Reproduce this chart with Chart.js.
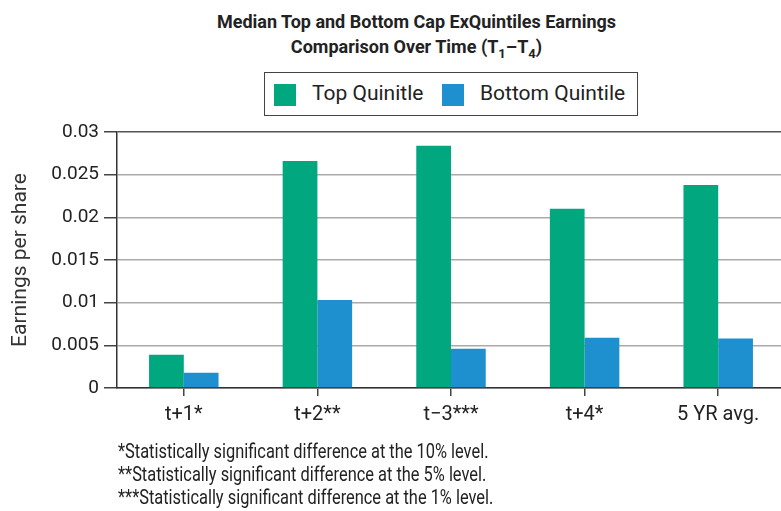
<!DOCTYPE html>
<html>
<head>
<meta charset="utf-8">
<script src="https://cdn.jsdelivr.net/npm/chart.js@4.4.0/dist/chart.umd.min.js"></script>
<style>
    html, body { margin: 0; padding: 0; width: 781px; height: 511px; overflow: hidden; background: #fff; font-family: Roboto, sans-serif; color: #222; }
    .title { position: absolute; top: 9px; left: 190px; width: 453px; text-align: center; font-weight: bold; font-size: 18px; line-height: 25px; }
    .legend { position: absolute; left: 264px; top: 72px; width: 374px; height: 44px; border: 1.5px solid #444; box-sizing: border-box; }
    .legend span { position: absolute; top: 8px; font-size: 21px; line-height: 24px; }
    .legend i { position: absolute; top: 11px; width: 22px; height: 22px; }
    .notes { position: absolute; left: 118px; top: 440px; font-size: 20px; line-height: 23px; white-space: nowrap; transform: scaleX(0.82); transform-origin: left top; }
    .wrap { position: absolute; left: 0; top: 0; width: 785px; height: 511px; }
</style>
</head>
<body>
<div class="title">Median Top and Bottom Cap ExQuintiles Earnings<br>Comparison Over Time (T<sub style="font-size:13px">1</sub>–T<sub style="font-size:13px">4</sub>)</div>
<div class="legend" id="legend"></div>
<div class="wrap"><canvas id="chart" width="785" height="511"></canvas></div>
<div class="notes">
    *Statistically significant difference at the 10% level.<br>
    **Statistically significant difference at the 5% level.<br>
    ***Statistically significant difference at the 1% level.
</div>
<script>
// data
const categories = ['t+1*', 't+2**', 't\u22123***', 't+4*', '5 YR avg.'];
const topQuintile = [0.0039, 0.0266, 0.0284, 0.0210, 0.0238];
const bottomQuintile = [0.0018, 0.0103, 0.0046, 0.0059, 0.0058];
const yTicks = [0, 0.005, 0.01, 0.015, 0.02, 0.025, 0.03];

const GREEN = '#00A77F';
const BLUE = '#1E90D0';

// html legend
const legend = document.getElementById('legend');
legend.innerHTML = `
    <i style="left:9px; background:${GREEN}"></i><span style="left:47px">Top Quinitle</span>
    <i style="left:177px; background:${BLUE}"></i><span style="left:215px">Bottom Quintile</span>
`;

const PAD_LEFT = 8;
const ctx = document.getElementById('chart').getContext('2d');
new Chart(ctx, {
    type: 'bar',
    data: {
        labels: categories,
        datasets: [
            { label: 'Top Quinitle', data: topQuintile, backgroundColor: GREEN, borderWidth: 0 },
            { label: 'Bottom Quintile', data: bottomQuintile, backgroundColor: BLUE, borderWidth: 0 }
        ]
    },
    options: {
        responsive: false,
        animation: false,
        layout: { padding: { top: 132, bottom: 77, left: PAD_LEFT, right: 0 } },
        datasets: { bar: { categoryPercentage: 0.52, barPercentage: 1.0 } },
        plugins: { legend: { display: false }, title: { display: false }, tooltip: { enabled: false } },
        scales: {
            x: {
                grid: { display: true, drawOnChartArea: false, offset: false, color: '#444', tickLength: 8, lineWidth: 1.5 },
                border: { color: '#333', width: 1.5 },
                ticks: { color: '#222', font: { family: 'Roboto', size: 20 }, padding: 7 }
            },
            y: {
                min: 0,
                max: 0.03,
                afterBuildTicks: axis => { axis.ticks = yTicks.map(v => ({ value: v })); },
                afterFit: axis => { axis.width = 117 - PAD_LEFT; },
                grid: { color: c => c.tick.value === 0.03 ? '#555' : '#aaa', lineWidth: 1.5, tickLength: 13, tickColor: '#444' },
                border: { color: '#333', width: 1.5 },
                ticks: { color: '#222', font: { family: 'Roboto', size: 19 }, padding: 5, callback: v => String(v) },
                title: { display: true, text: 'Earnings per share', color: '#333', font: { family: 'Roboto', size: 21 }, padding: { top: 0, bottom: 4 } }
            }
        }
    }
});
</script>
</body>
</html>
